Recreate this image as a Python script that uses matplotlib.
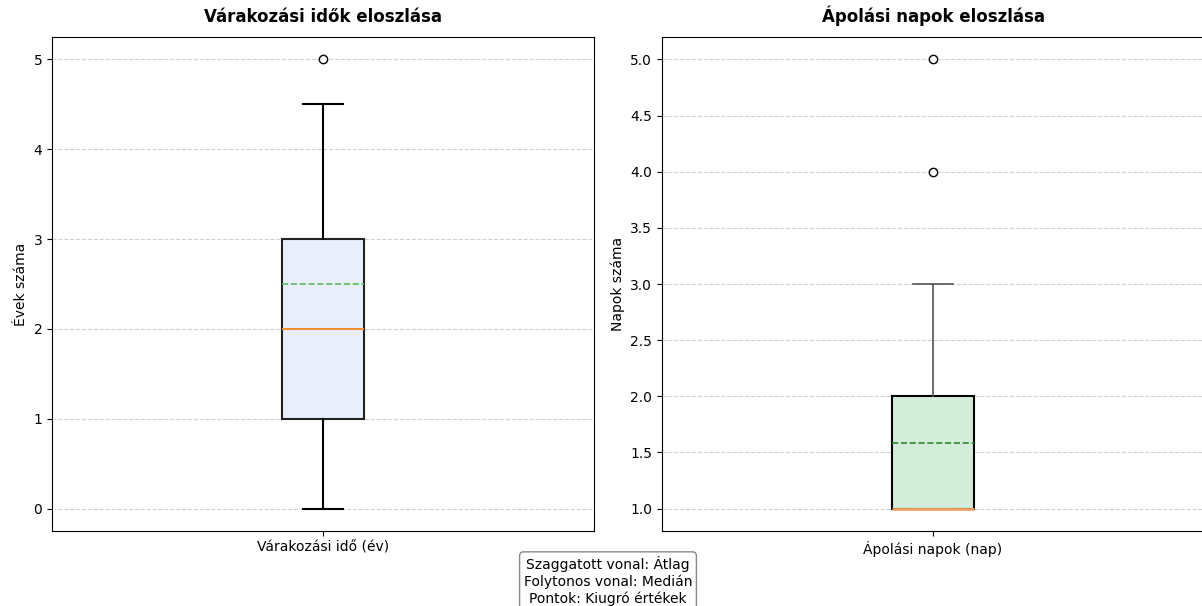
import matplotlib
matplotlib.use('Agg')
import matplotlib.pyplot as plt

# Waiting times (years) - box statistics
wait_label = 'Várakozási idő (év)'
wait_whislo, wait_q1, wait_med, wait_q3, wait_whishi = 0, 1, 2, 3, 4.5
wait_mean = 2.5
wait_fliers = [5]

# Care days - box statistics
care_label = 'Ápolási napok (nap)'
care_whislo, care_q1, care_med, care_q3, care_whishi = 1, 1, 1, 2, 3
care_mean = 1.58
care_fliers = [4, 5]

W, H = 1202, 606
fig = plt.figure(figsize=(W / 100, H / 100), dpi=100)

ax1 = fig.add_axes([52 / W, 1 - 531 / H, 542 / W, 494 / H])
ax2 = fig.add_axes([662 / W, 1 - 531 / H, 542 / W, 494 / H])


def _stats(label, lo, q1, med, q3, hi, mean, fliers):
    return [dict(label=label, whislo=lo, q1=q1, med=med, q3=q3, whishi=hi,
                 mean=mean, fliers=fliers)]


ax1.bxp(_stats(wait_label, wait_whislo, wait_q1, wait_med, wait_q3,
               wait_whishi, wait_mean, wait_fliers),
        widths=0.15, patch_artist=True, showmeans=True, meanline=True,
        boxprops=dict(facecolor='#e8eefb', edgecolor='#222222', linewidth=1.5),
        whiskerprops=dict(color='black', linewidth=1.5),
        capprops=dict(color='black', linewidth=1.5),
        medianprops=dict(color='#f28e2b', linewidth=1.5),
        meanprops=dict(color='#5cb85c', linestyle='--', linewidth=1.2),
        flierprops=dict(marker='o', markerfacecolor='white',
                        markeredgecolor='black', markersize=6))
ax1.set_title('Várakozási idők eloszlása', fontweight='bold', fontsize=12,
              pad=10.5)
ax1.set_ylabel('Évek száma')
ax1.grid(True, axis='y', linestyle='--', color='#cccccc', alpha=0.9)
ax1.set_axisbelow(True)

ax2.bxp(_stats(care_label, care_whislo, care_q1, care_med, care_q3,
               care_whishi, care_mean, care_fliers),
        widths=0.15, patch_artist=True, showmeans=True, meanline=True,
        boxprops=dict(facecolor='#d4edda', edgecolor='black', linewidth=1.5),
        whiskerprops=dict(color='#555555', linewidth=1.2),
        capprops=dict(color='#555555', linewidth=1.2),
        medianprops=dict(color='#f4a460', linewidth=2),
        meanprops=dict(color='#2e8b2e', linestyle='--', linewidth=1.2),
        flierprops=dict(marker='o', markerfacecolor='white',
                        markeredgecolor='black', markersize=6))
ax2.set_title('Ápolási napok eloszlása', fontweight='bold', fontsize=12,
              pad=10.5)
ax2.set_ylabel('Napok száma')
ax2.grid(True, axis='y', linestyle='--', color='#cccccc', alpha=0.9)
ax2.set_axisbelow(True)

fig.text(608 / W, 1 - 556 / H,
         'Szaggatott vonal: Átlag\nFolytonos vonal: Medián\nPontok: Kiugró értékek',
         ha='center', va='top', fontsize=10,
         bbox=dict(boxstyle='round', facecolor='white', edgecolor='#888888'))

fig.savefig('out.png', dpi=100)
